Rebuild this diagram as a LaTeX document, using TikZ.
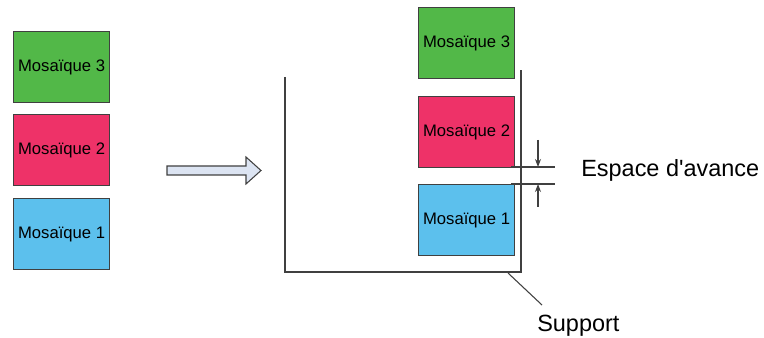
\documentclass[tikz,border=0pt]{standalone}
\usepackage{fontspec}
\setmainfont{Liberation Sans}
\usetikzlibrary{arrows.meta}
\definecolor{mgreen}{RGB}{82,184,72}
\definecolor{mred}{RGB}{238,50,104}
\definecolor{mblue}{RGB}{92,192,237}
\definecolor{arrfill}{RGB}{220,228,242}
\definecolor{edge}{RGB}{64,64,64}
\tikzset{
  tile/.style={draw=edge, line width=0.9pt, minimum width=96*0.75pt, minimum height=71*0.75pt, inner sep=0pt, font=\fontsize{12.5}{14}\selectfont, anchor=north west},
  big/.style={font=\fontsize{17.6}{20}\selectfont, inner sep=0pt},
  supp/.style={draw=edge, line width=1pt},
  dim/.style={draw=edge, line width=0.8pt},
}
\begin{document}
\begin{tikzpicture}[x=0.75pt,y=-0.75pt]
\useasboundingbox (0,0) rectangle (764,338);
% left tiles
\node[tile, fill=mgreen] (l3) at (13,31) {Mosaïque 3};
\node[tile, fill=mred] (l2) at (13,114) {Mosaïque 2};
\node[tile, fill=mblue] (l1) at (13,198) {Mosaïque 1};
% block arrow
\draw[draw=edge, fill=arrfill, line width=0.8pt] (167,166) -- (246,166) -- (246,157) -- (261,170.5) -- (246,184) -- (246,175) -- (167,175) -- cycle;
% support
\coordinate (sa) at (285,77);
\coordinate (sb) at (285,272);
\coordinate (sc) at (521,272);
\coordinate (sd) at (521,70);
\draw[supp] (sa) -- (sb) -- (sc) -- (sd);
% right tiles
\node[tile, fill=mgreen] (r3) at (418,7) {Mosaïque 3};
\node[tile, fill=mred] (r2) at (418,96) {Mosaïque 2};
\node[tile, fill=mblue] (r1) at (418,184) {Mosaïque 1};
% dimension
\coordinate (h1a) at (511,167);
\coordinate (h1b) at (555,167);
\coordinate (h2a) at (511,184);
\coordinate (h2b) at (555,184);
\draw[dim] (h1a) -- (h1b);
\draw[dim] (h2a) -- (h2b);
\coordinate (t1) at (538,140);
\coordinate (t2) at (538,167);
\coordinate (b1) at (538,207);
\coordinate (b2) at (538,184);
\draw[dim, -{Stealth[length=6pt,width=4.5pt]}] (t1) -- (t2);
\draw[dim, -{Stealth[length=6pt,width=4.5pt]}] (b1) -- (b2);
\node[big, anchor=base west] (esp) at (581,177) {Espace d\textquotesingle avance};
% support label
\node[big, anchor=base west] (sup) at (537,332) {Support};
\coordinate (la) at (508,273);
\coordinate (lb) at (542,305);
\draw[dim] (la) -- (lb);
\end{tikzpicture}
\end{document}
